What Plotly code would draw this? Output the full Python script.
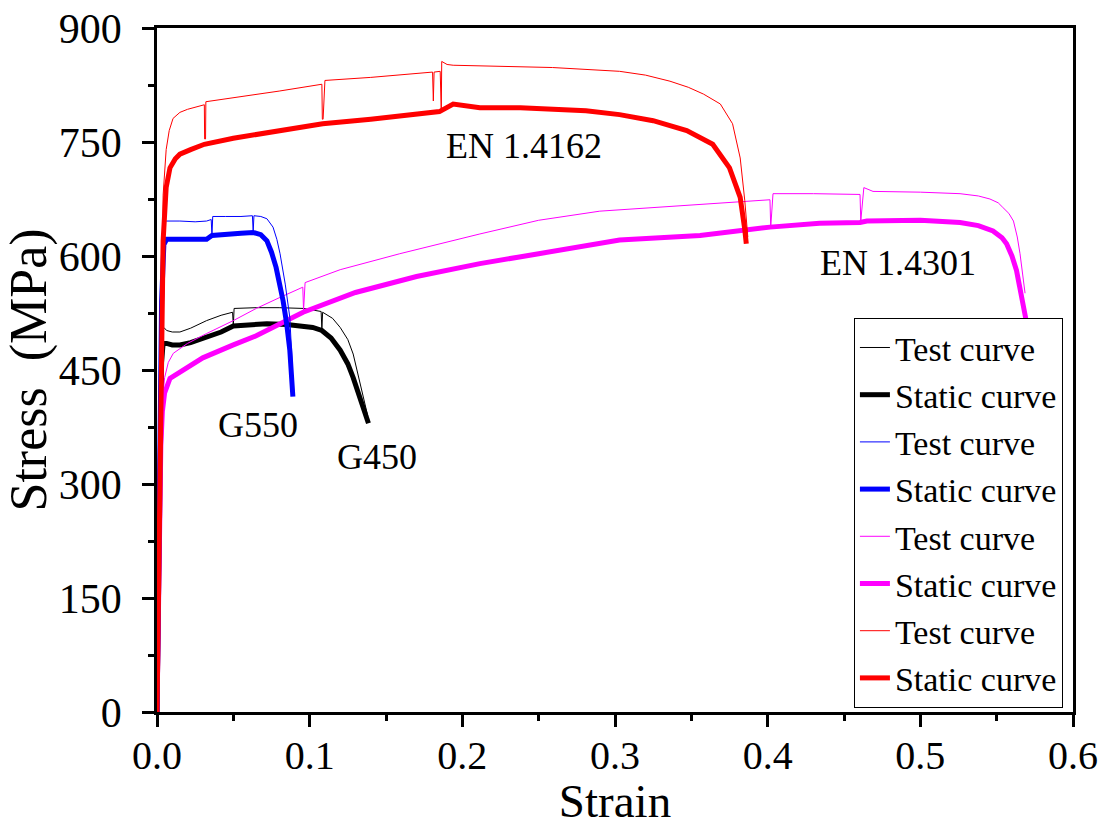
import plotly.graph_objects as go

# ---------------- data ----------------
g450_test_strain = [0, 0.0015, 0.003, 0.004, 0.005, 0.0063, 0.01, 0.015, 0.022, 0.0325, 0.042, 0.0495,
                    0.05, 0.0505, 0.065, 0.08, 0.096, 0.1075, 0.108, 0.1085, 0.115, 0.12, 0.125, 0.1285,
                    0.132, 0.135, 0.138]
g450_test_stress = [0, 280, 470, 505, 505, 502, 500, 500, 505, 515, 522, 526,
                    508, 531, 532, 532, 531, 527, 504, 526, 518, 506, 490, 471,
                    440, 415, 390]
g450_static_strain = [0, 0.0015, 0.003, 0.004, 0.0063, 0.01, 0.015, 0.022, 0.0325, 0.042, 0.05, 0.06,
                      0.072, 0.085, 0.096, 0.102, 0.108, 0.114, 0.12, 0.125, 0.1285, 0.132, 0.135, 0.1385]
g450_static_stress = [0, 270, 460, 485, 485, 483, 483, 486, 493, 500, 508, 510,
                      511, 510, 508, 506, 502, 492, 476, 458, 440, 418, 400, 380]

g550_test_strain = [0, 0.0015, 0.003, 0.0045, 0.0063, 0.015, 0.025, 0.0325, 0.0355, 0.036, 0.0365, 0.045,
                    0.055, 0.0625, 0.063, 0.0635, 0.068, 0.072, 0.076, 0.0785, 0.0806, 0.084, 0.087, 0.0885]
g550_test_stress = [0, 290, 560, 645, 646, 646, 645, 646, 648, 627, 652, 652,
                    652, 653, 632, 653, 652, 649, 638, 622, 603, 563, 519, 460]
g550_static_strain = [0, 0.0015, 0.003, 0.0045, 0.0063, 0.015, 0.025, 0.0325, 0.036, 0.045, 0.055, 0.063,
                      0.068, 0.072, 0.075, 0.078, 0.0805, 0.0826, 0.085, 0.087, 0.089]
g550_static_stress = [0, 280, 540, 615, 622, 622, 622, 622, 627, 629, 630, 631,
                      628, 620, 605, 585, 563, 541, 510, 476, 415]

en4301_test_strain = [0, 0.0015, 0.0025, 0.0035, 0.005, 0.0074, 0.0107, 0.02, 0.0325, 0.05, 0.065, 0.08,
                      0.0955, 0.096, 0.097, 0.12, 0.159, 0.2115, 0.25, 0.29, 0.3557, 0.4015, 0.402,
                      0.4035, 0.43, 0.4605, 0.461, 0.463, 0.469, 0.5, 0.526, 0.538, 0.5456, 0.551,
                      0.554, 0.558, 0.561, 0.5635, 0.5653, 0.5686]
en4301_test_stress = [0, 260, 360, 410, 440, 460, 472, 485, 498, 515, 531, 545,
                      559, 528, 565, 582, 603, 629, 647, 659, 668, 674, 638,
                      682, 682, 681, 646, 690, 685, 684, 682, 679, 675, 670,
                      664, 656, 646, 625, 603, 551]
en4301_static_strain = [0, 0.0015, 0.0025, 0.0035, 0.005, 0.0085, 0.015, 0.03, 0.05, 0.065, 0.0957, 0.13,
                        0.17, 0.2115, 0.25, 0.303, 0.3557, 0.4015, 0.434, 0.4605, 0.465, 0.5, 0.526,
                        0.538, 0.5476, 0.5535, 0.5565, 0.56, 0.563, 0.5673, 0.5697]
en4301_static_stress = [0, 250, 350, 395, 420, 439, 447, 466, 483, 495, 526, 552,
                        573, 590, 603, 621, 627, 638, 643, 644, 646, 647, 644,
                        640, 633, 624, 616, 600, 581, 537, 511]

en4162_test_strain = [0, 0.0015, 0.003, 0.004, 0.006, 0.008, 0.0105, 0.015, 0.02, 0.031, 0.0312, 0.0318,
                      0.032, 0.05, 0.08, 0.108, 0.1083, 0.1088, 0.11, 0.14, 0.1805, 0.181, 0.1815,
                      0.1855, 0.186, 0.1862, 0.1865, 0.19, 0.194, 0.22, 0.259, 0.303, 0.32, 0.336,
                      0.348, 0.358, 0.369, 0.377, 0.382, 0.385, 0.387]
en4162_test_stress = [0, 290, 570, 680, 740, 765, 781, 789, 793, 799, 754, 754,
                      803, 808, 817, 826, 780, 780, 831, 835, 842, 804, 842,
                      843, 790, 790, 856, 852, 851, 850, 848, 843, 838, 830,
                      822, 813, 800, 774, 729, 673, 625]
en4162_static_strain = [0, 0.0015, 0.003, 0.004, 0.006, 0.0085, 0.012, 0.015, 0.022, 0.031, 0.05, 0.08,
                        0.1085, 0.14, 0.181, 0.185, 0.194, 0.2115, 0.238, 0.281, 0.303, 0.325, 0.347,
                        0.364, 0.375, 0.382, 0.385, 0.386]
en4162_static_stress = [0, 280, 540, 620, 690, 716, 728, 734, 740, 747, 755, 765,
                        774, 780, 788, 790, 800, 795, 795, 791, 786, 778, 765,
                        747, 716, 677, 635, 616]

label_text = ["EN 1.4162", "EN 1.4301", "G550", "G450"]
label_strain = [0.2404, 0.4854, 0.0662, 0.1441]
label_stress = [745, 591, 377, 336]

x_ticks = [0.0, 0.1, 0.2, 0.3, 0.4, 0.5, 0.6]
x_tick_text = ["0.0", "0.1", "0.2", "0.3", "0.4", "0.5", "0.6"]
y_ticks = [0, 150, 300, 450, 600, 750, 900]

# ---------------- figure ----------------
FONT = "Liberation Serif"
THIN, THICK = 1, 5

series = [
    # (name, x, y, color, width, legendrank)  draw order: black, magenta, blue, red
    ("Test curve", g450_test_strain, g450_test_stress, "#000000", THIN, 1),
    ("Static curve", g450_static_strain, g450_static_stress, "#000000", THICK, 2),
    ("Test curve", en4301_test_strain, en4301_test_stress, "#FF00FF", THIN, 5),
    ("Static curve", en4301_static_strain, en4301_static_stress, "#FF00FF", THICK, 6),
    ("Test curve", g550_test_strain, g550_test_stress, "#0000FF", THIN, 3),
    ("Static curve", g550_static_strain, g550_static_stress, "#0000FF", THICK, 4),
    ("Test curve", en4162_test_strain, en4162_test_stress, "#FF0000", THIN, 7),
    ("Static curve", en4162_static_strain, en4162_static_stress, "#FF0000", THICK, 8),
]

fig = go.Figure()
for name, xs, ys, col, w, rank in series:
    fig.add_trace(go.Scatter(x=xs, y=ys, mode="lines", name=name,
                             line=dict(color=col, width=w), legendrank=rank))

for t, xv, yv in zip(label_text, label_strain, label_stress):
    fig.add_annotation(x=xv, y=yv, xref="x", yref="y", text=t, showarrow=False,
                       font=dict(family=FONT, size=36, color="black"))

axis_common = dict(showline=True, linecolor="black", linewidth=2.5, mirror=True,
                   showgrid=False, zeroline=False, ticks="outside", tickwidth=2.5,
                   ticklen=12, tickcolor="black")

fig.update_xaxes(range=[0, 0.6], tickvals=x_ticks, ticktext=x_tick_text,
                 tickfont=dict(family=FONT, size=40, color="black"),
                 ticklabelstandoff=-6,
                 minor=dict(ticks="outside", ticklen=6, tickwidth=2.5, dtick=0.05,
                            tickcolor="black", showgrid=False),
                 title=dict(text="Strain", font=dict(family=FONT, size=47, color="black"),
                            standoff=10),
                 **axis_common)
fig.update_yaxes(range=[0, 900], tickvals=y_ticks,
                 tickfont=dict(family=FONT, size=42, color="black"),
                 minor=dict(ticks="outside", ticklen=6, tickwidth=2.5, dtick=75,
                            tickcolor="black", showgrid=False),
                 ticklabelstandoff=12,
                 title=dict(text="Stress  (MPa)", font=dict(family=FONT, size=52, color="black"),
                            standoff=6),
                 **axis_common)

fig.update_layout(
    width=1111, height=827,
    margin=dict(l=157, r=38, t=28, b=115, autoexpand=False),
    plot_bgcolor="white", paper_bgcolor="white",
    font=dict(family=FONT, color="black"),
    legend=dict(x=0.989, y=0.006, xanchor="right", yanchor="bottom",
                bgcolor="white", bordercolor="black", borderwidth=1,
                font=dict(family=FONT, size=34, color="black"),
                itemwidth=30, tracegroupgap=0),
    showlegend=True,
)

fig.write_html("out.html")
